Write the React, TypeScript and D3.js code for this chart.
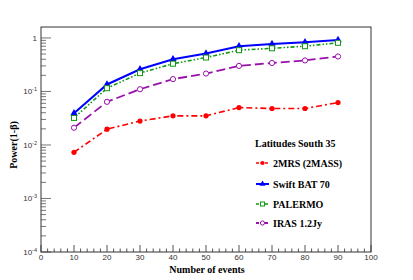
import * as d3 from 'd3';
import React from 'react';

const events = [10, 20, 30, 40, 50, 60, 70, 80, 90];
const mrs2 = [0.0073, 0.0197, 0.028, 0.035, 0.035, 0.05, 0.048, 0.048, 0.062];
const swift = [0.039, 0.135, 0.26, 0.4, 0.51, 0.7, 0.77, 0.83, 0.91];
const palermo = [0.032, 0.115, 0.22, 0.33, 0.43, 0.59, 0.64, 0.7, 0.81];
const iras = [0.021, 0.064, 0.11, 0.17, 0.216, 0.3, 0.34, 0.38, 0.45];

const xTicks = [0, 10, 20, 30, 40, 50, 60, 70, 80, 90, 100];
const yDecades = [-4, -3, -2, -1, 0];

const series = [
    { name: '2MRS (2MASS)', values: mrs2, color: '#ff0000', dash: '6,3,2,3', marker: 'dot', width: 1.6 },
    { name: 'Swift BAT 70', values: swift, color: '#0000ff', dash: '', marker: 'tri', width: 2 },
    { name: 'PALERMO', values: palermo, color: '#119911', dash: '4,2,1.5,2,1.5,2', marker: 'sq', width: 1.6 },
    { name: 'IRAS 1.2Jy', values: iras, color: '#9911aa', dash: '9,4', marker: 'circ', width: 1.8 },
];

const margin = { left: 41, top: 27, right: 42, bottom: 28 };
const W = 413, H = 280;

function Marker({ kind, color, x, y, s = 1 }) {
    if (kind === 'dot') return <circle cx={x} cy={y} r={2.6 * s} fill={color} />;
    if (kind === 'tri') {
        const p = d3.symbol(d3.symbolTriangle, 24 * s * s)();
        return <path d={p} transform={`translate(${x},${y})`} fill={color} />;
    }
    if (kind === 'sq') return <rect x={x - 2.5 * s} y={y - 2.5 * s} width={5 * s} height={5 * s} fill="white" stroke={color} strokeWidth={1} />;
    return <circle cx={x} cy={y} r={2.6 * s} fill="white" stroke={color} strokeWidth={1} />;
}

export default function App() {
    const x = d3.scaleLinear().domain([0, 100]).range([margin.left, W - margin.right]);
    const y = d3.scaleLog().domain([1e-4, 1.6]).range([H - margin.bottom, margin.top]);
    const x0 = x(0), x1 = x(100), y0 = y(1e-4), y1 = margin.top;

    const minorX = d3.range(0, 101, 2).filter(v => v % 10 !== 0);
    const minorY = [];
    yDecades.forEach(d => {
        for (let k = 2; k <= 9; k++) {
            const v = k * Math.pow(10, d);
            if (v <= 1.6) minorY.push(v);
        }
    });

    const line = d3.line<number>()
        .x((_, i) => x(events[i]))
        .y(v => y(v));

    const legX = 256, legRows = [163, 184, 204, 223];

    return (
        <svg width={W} height={H} style={{ position: 'absolute', left: 0, top: 0 }}>
            <rect width={W} height={H} fill="white" />
            {/* ticks */}
            {xTicks.map(t => (
                <line key={'xt' + t} x1={x(t)} x2={x(t)} y1={y0} y2={y0 - 7} stroke="#555" strokeWidth={1} />
            ))}
            {minorX.map(t => (
                <line key={'xm' + t} x1={x(t)} x2={x(t)} y1={y0} y2={y0 - 3.5} stroke="#555" strokeWidth={1} />
            ))}
            {yDecades.map(d => (
                <line key={'yt' + d} x1={x0} x2={x0 + 10} y1={y(Math.pow(10, d))} y2={y(Math.pow(10, d))} stroke="#777" strokeWidth={1} />
            ))}
            {minorY.map((v, i) => (
                <line key={'ym' + i} x1={x0} x2={x0 + 5} y1={y(v)} y2={y(v)} stroke="#777" strokeWidth={1} />
            ))}
            <rect x={x0} y={y1} width={x1 - x0} height={y0 - y1} fill="none" stroke="#333" strokeWidth={1} />

            {/* tick labels */}
            {xTicks.map(t => (
                <text key={'xl' + t} x={x(t)} y={260} textAnchor="middle" fontFamily="Liberation Sans" fontSize={8} fill="#333">{t}</text>
            ))}
            {yDecades.map(d => (
                d === 0
                    ? <text key={'yl' + d} x={37} y={y(1) + 3} textAnchor="end" fontFamily="Liberation Sans" fontSize={8} fill="#333">1</text>
                    : <text key={'yl' + d} x={37} y={y(Math.pow(10, d)) + 3} textAnchor="end" fontFamily="Liberation Sans" fontSize={8} fill="#333">
                        10<tspan fontSize={5.5} dy={-3}>{d}</tspan>
                      </text>
            ))}

            {/* axis titles */}
            <text x={207} y={273} textAnchor="middle" fontFamily="Liberation Serif" fontWeight="bold" fontSize={10}>Number of events</text>
            <text transform={`translate(17,${145}) rotate(-90)`} textAnchor="middle" fontFamily="Liberation Serif" fontWeight="bold" fontSize={10}>Power(1-β)</text>

            {/* series */}
            {series.map(s => (
                <g key={s.name}>
                    <path d={line(s.values)} fill="none" stroke={s.color} strokeWidth={s.width} strokeDasharray={s.dash} />
                    {s.values.map((v, i) => (
                        <Marker key={i} kind={s.marker} color={s.color} x={x(events[i])} y={y(v)} />
                    ))}
                </g>
            ))}

            {/* legend */}
            <text x={255} y={147} fontFamily="Liberation Serif" fontWeight="bold" fontSize={10}>Latitudes South 35</text>
            {series.map((s, i) => (
                <g key={'lg' + s.name}>
                    <line x1={legX} x2={legX + 13} y1={legRows[i]} y2={legRows[i]} stroke={s.color} strokeWidth={s.width} strokeDasharray={s.dash ? '3,1.5' : ''} />
                    <Marker kind={s.marker} color={s.color} x={legX + 6.5} y={legRows[i]} s={0.8} />
                    <text x={273} y={legRows[i] + 3.5} fontFamily="Liberation Serif" fontWeight="bold" fontSize={10}>{s.name}</text>
                </g>
            ))}
        </svg>
    );
}
